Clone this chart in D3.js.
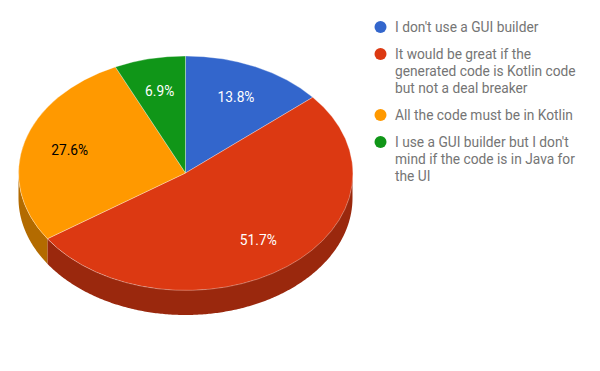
<!DOCTYPE html>
<html>
<head>
<meta charset="utf-8">
<script src="https://cdn.jsdelivr.net/npm/d3@7"></script>
<style>
    html, body { margin: 0; padding: 0; background: #fff; }
    svg { display: block; }
    text { font-family: Roboto, sans-serif; font-size: 13.75px; }
</style>
</head>
<body>
<div id="chart"></div>
<script>
// Data
const categories = [
    ["I don't use a GUI builder"],
    ['It would be great if the', 'generated code is Kotlin code', 'but not a deal breaker'],
    ['All the code must be in Kotlin'],
    ["I use a GUI builder but I don't", 'mind if the code is in Java for', 'the UI']
];
const values = [13.8, 51.7, 27.6, 6.9];
const valueLabels = ['13.8%', '51.7%', '27.6%', '6.9%'];
const colors = ['#3366cc', '#dc3912', '#ff9900', '#109618'];
const sideColors = ['#24478f', '#9a280d', '#b36b00', '#0b690f'];
const labelColors = ['#ffffff', '#ffffff', '#000000', '#ffffff'];

const width = 600;
const height = 371;
const cx = 185.5;
const cy = 173;
const rx = 167;
const ry = 117;
const depth = 25;

const svg = d3.select('#chart')
    .append('svg')
    .attr('width', width)
    .attr('height', height);

// Slices start at 12 o'clock and go clockwise
const pie = d3.pie().sort(null).value(d => d);
const slices = pie(values);

// The tilted disc: unit circle squashed by these two scales
const px = d3.scaleLinear().domain([-1, 1]).range([cx - rx, cx + rx]);
const py = d3.scaleLinear().domain([-1, 1]).range([cy - ry, cy + ry]);

// Side wall, only the front half of the rim shows
const wall = d3.area()
    .x(a => px(Math.sin(a)))
    .y0(a => py(-Math.cos(a)))
    .y1(a => py(-Math.cos(a)) + depth);

slices.forEach((s, i) => {
    const start = Math.max(s.startAngle, Math.PI / 2);
    const end = Math.min(s.endAngle, Math.PI * 1.5);
    if (end <= start) return;
    const steps = d3.range(start, end, 0.01).concat([end]);
    svg.append('path')
        .attr('d', wall(steps))
        .attr('fill', sideColors[i]);
});

// Top of the pie
const arc = d3.arc().innerRadius(0).outerRadius(1);
svg.append('g')
    .attr('transform', `translate(${cx},${cy}) scale(${rx},${ry})`)
    .selectAll('path')
    .data(slices)
    .join('path')
    .attr('d', arc)
    .attr('fill', (d, i) => colors[i])
    .attr('stroke', '#fff')
    .attr('stroke-opacity', 0.45)
    .attr('stroke-width', 0.7)
    .attr('vector-effect', 'non-scaling-stroke');

// Value labels, placed along the middle of each slice
const labelRadius = 0.72;
svg.append('g')
    .selectAll('text')
    .data(slices)
    .join('text')
    .attr('x', d => px(labelRadius * Math.sin((d.startAngle + d.endAngle) / 2)))
    .attr('y', d => py(-labelRadius * Math.cos((d.startAngle + d.endAngle) / 2)))
    .attr('dy', '0.36em')
    .attr('text-anchor', 'middle')
    .attr('fill', (d, i) => labelColors[i])
    .text((d, i) => valueLabels[i]);

// Legend
const lineHeight = 17;
const legendGap = 10;
let legendY = 27;
categories.forEach((lines, i) => {
    const g = svg.append('g');
    g.append('circle')
        .attr('cx', 380.5)
        .attr('cy', legendY)
        .attr('r', 6)
        .attr('fill', colors[i]);
    lines.forEach((line, j) => {
        g.append('text')
            .attr('x', 395)
            .attr('y', legendY + j * lineHeight)
            .attr('dy', '0.36em')
            .attr('fill', '#757575')
            .text(line);
    });
    legendY += lines.length * lineHeight + legendGap;
});
</script>
</body>
</html>
